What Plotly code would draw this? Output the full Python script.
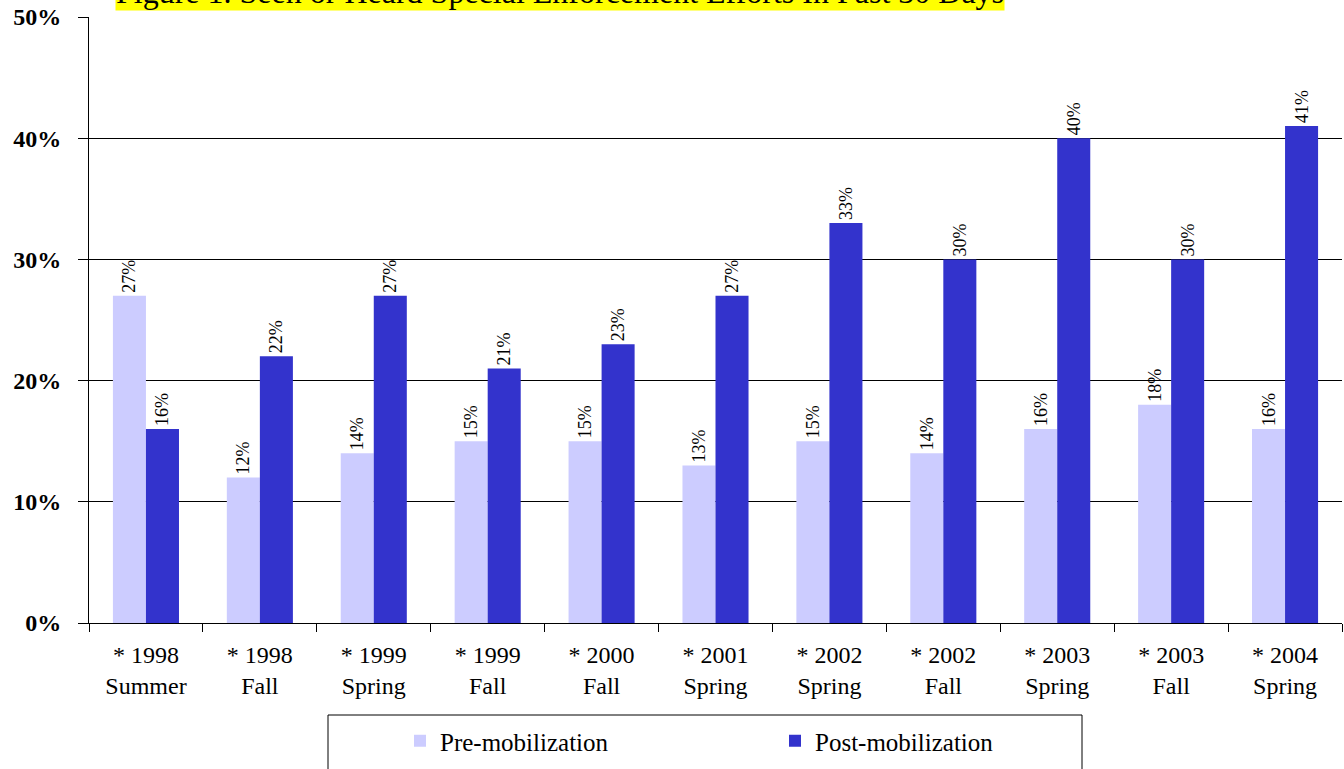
import plotly.graph_objects as go

categories = ["* 1998<br>Summer", "* 1998<br>Fall", "* 1999<br>Spring", "* 1999<br>Fall",
              "* 2000<br>Fall", "* 2001<br>Spring", "* 2002<br>Spring", "* 2002<br>Fall",
              "* 2003<br>Spring", "* 2003<br>Fall", "* 2004<br>Spring"]
pre = [27, 12, 14, 15, 15, 13, 15, 14, 16, 18, 16]
post = [16, 22, 27, 21, 23, 27, 33, 30, 40, 30, 41]
yticks = [0, 10, 20, 30, 40, 50]
ytick_labels = ["0%", "10%", "20%", "30%", "40%", "50%"]

FONT = "Liberation Serif"
L, R, T, B = 89, 2, 17, 146
PW, PH = 1344 - L - R, 769 - T - B


def px_x(p):
    return (p - L) / PW


def px_y(p):
    return (769 - B - p) / PH


fig = go.Figure()
fig.add_trace(go.Bar(
    name="Pre-mobilization", x=categories, y=pre,
    marker=dict(color="#CCCCFF", line=dict(width=0)),
    text=[f"{v}%" for v in pre], textposition="outside", textangle=-90,
    textfont=dict(family=FONT, size=24, color="black"), cliponaxis=False,
))
fig.add_trace(go.Bar(
    name="Post-mobilization", x=categories, y=post,
    marker=dict(color="#3333CC", line=dict(width=0)),
    text=[f"{v}%" for v in post], textposition="outside", textangle=-90,
    textfont=dict(family=FONT, size=24, color="black"), cliponaxis=False,
))

fig.update_layout(
    width=1344, height=769,
    margin=dict(l=L, r=R, t=T, b=B, autoexpand=False),
    paper_bgcolor="white", plot_bgcolor="white",
    barmode="group", bargap=0.42, bargroupgap=0,
    font=dict(family=FONT, size=20, color="black"),
    showlegend=True,
    legend=dict(
        orientation="h", x=px_x(400), xanchor="left", y=px_y(718), yanchor="top",
        borderwidth=0, bgcolor="rgba(0,0,0,0)",
        font=dict(family=FONT, size=25, color="black"),
        entrywidth=330, entrywidthmode="pixels",
    ),
    xaxis=dict(
        automargin=False,
        showline=True, linecolor="black", linewidth=1,
        ticks="outside", tickson="boundaries", ticklen=8, tickcolor="black",
        tickfont=dict(family=FONT, size=24, color="black"),
        ticklabelstandoff=10,
        showgrid=False,
    ),
    yaxis=dict(
        automargin=False,
        range=[0, 50], tickvals=yticks, ticktext=ytick_labels,
        showline=True, linecolor="black", linewidth=1,
        showgrid=True, gridcolor="black", gridwidth=1,
        ticks="outside", ticklen=10, tickcolor="black",
        tickfont=dict(family=FONT, size=24, color="black", weight="bold"),
        ticklabelstandoff=12,
        zeroline=False,
    ),
    shapes=[dict(
        type="rect", xref="paper", yref="paper",
        x0=px_x(328), x1=px_x(1082), y0=px_y(715), y1=px_y(790),
        line=dict(color="black", width=1), fillcolor="rgba(0,0,0,0)",
    )],
    annotations=[dict(
        text="Figure 1. Seen or Heard Special Enforcement Efforts In Past 30 Days",
        xref="paper", yref="paper", x=px_x(115), xanchor="left",
        y=px_y(11), yanchor="bottom",
        showarrow=False, bgcolor="#FFFF00", borderpad=0,
        font=dict(family=FONT, size=32, color="black"),
    )],
)

fig.write_html(
    "out.html",
    config={"displayModeBar": False},
    post_script="document.body.style.margin='0';document.body.style.overflow='hidden';",
)
